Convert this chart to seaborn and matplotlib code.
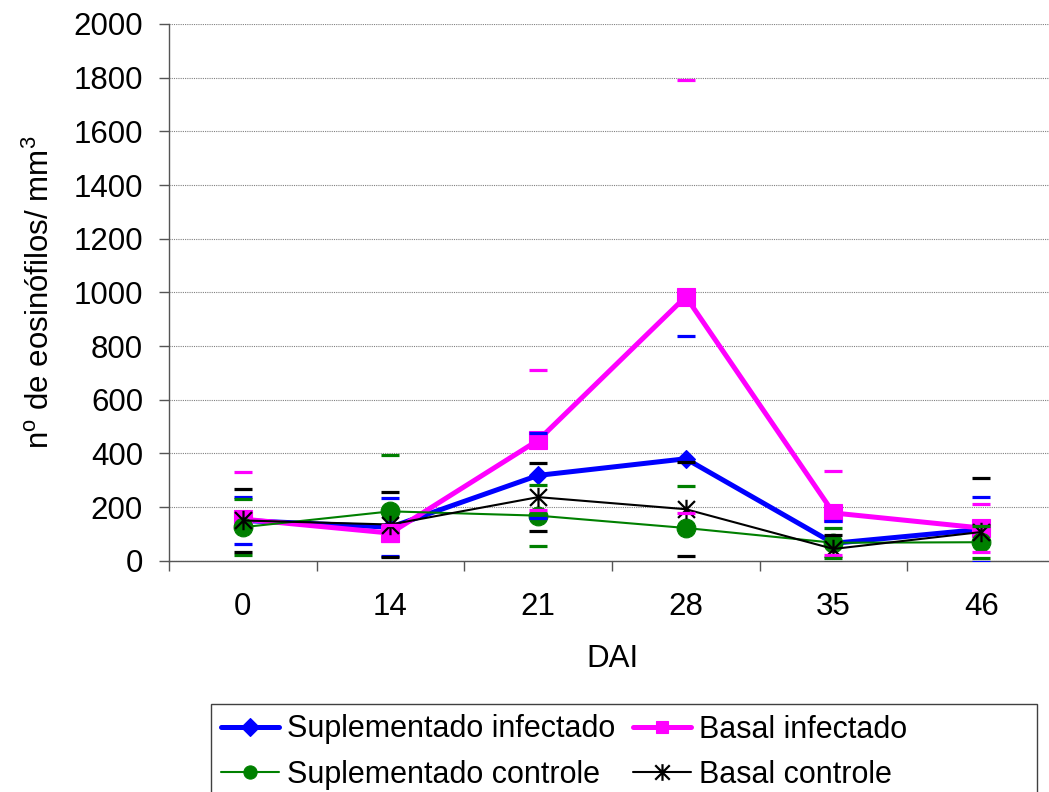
import numpy as np
import pandas as pd
import matplotlib
matplotlib.use("Agg")
import matplotlib.pyplot as plt
from matplotlib.path import Path
from matplotlib.patches import Rectangle
import seaborn as sns

# ---- data ----
days = ["0", "14", "21", "28", "35", "46"]
sup_inf = [150, 125, 318, 380, 65, 117]
sup_inf_err = [87, 108, 159, 458, 82, 121]
bas_inf = [155, 103, 449, 984, 178, 122]
bas_inf_err = [175, 30, 261, 806, 155, 90]
sup_ctrl = [125, 184, 168, 122, 67, 69]
sup_ctrl_err = [104, 211, 113, 155, 55, 60]
bas_ctrl = [150, 135, 237, 192, 44, 107]
bas_ctrl_err = [118, 122, 128, 176, 53, 202]
series_names = ["Suplementado infectado", "Basal infectado",
                "Suplementado controle", "Basal controle"]

sns.set_theme(style="white")
plt.rcParams['font.family'] = ['Liberation Sans', 'DejaVu Sans']
plt.rcParams['mathtext.fontset'] = 'custom'
plt.rcParams['mathtext.rm'] = 'Liberation Sans'
plt.rcParams['text.color'] = 'black'
plt.rcParams['axes.labelcolor'] = 'black'

FS = 22.5

fig = plt.figure(figsize=(10.49, 7.92), dpi=100)
ax = fig.add_axes([0.1611, 0.2920, 0.8446, 0.6777])

xpos = np.arange(len(days))
df = pd.DataFrame({"x": np.tile(xpos, 4),
                   "y": sup_inf + bas_inf + sup_ctrl + bas_ctrl,
                   "err": sup_inf_err + bas_inf_err + sup_ctrl_err + bas_ctrl_err,
                   "serie": np.repeat(series_names, len(days))})

asterisk = Path([(-1, -1), (1, 1), (-1, 1), (1, -1), (0, -1.15), (0, 1.15)],
                [Path.MOVETO, Path.LINETO, Path.MOVETO, Path.LINETO, Path.MOVETO, Path.LINETO])

styles = {
    "Suplementado infectado": dict(color="#0000FF", lw=3.6, marker="D", ms=9.2, mew=0.8, lms=9.5),
    "Basal infectado": dict(color="#FF00FF", lw=3.6, marker="s", ms=13, mew=0.8, lms=8),
    "Suplementado controle": dict(color="#008000", lw=1.5, marker="o", ms=13.5, mew=0.8, lms=9.5),
    "Basal controle": dict(color="#000000", lw=1.5, marker=asterisk, ms=14, mew=1.6, lms=12),
}

for name in series_names:
    st = styles[name]
    sub = df[df["serie"] == name]
    sns.lineplot(data=sub, x="x", y="y", ax=ax, color=st["color"], lw=st["lw"],
                 marker=st["marker"], markersize=st["ms"], markeredgewidth=st["mew"],
                 markeredgecolor=st["color"], markerfacecolor=st["color"],
                 label=name, zorder=3, legend=False)

for name in series_names:
    st = styles[name]
    sub = df[df["serie"] == name]
    eb = ax.errorbar(sub["x"], sub["y"], yerr=sub["err"], fmt="none",
                     ecolor=st["color"], capsize=6.8, capthick=2.3,
                     elinewidth=0, zorder=5)
    for c in eb[2]:
        c.set_visible(False)

ax.set_xlim(-0.5, len(days) - 0.5)
ax.set_ylim(0, 2000)
ax.set_yticks(np.arange(0, 2001, 200))
ax.set_xticks(xpos)
ax.set_xticklabels(days)
ax.set_xticks(np.arange(-0.5, len(days), 1), minor=True)

spine_c = "#555555"
for s in ["top", "right"]:
    ax.spines[s].set_visible(False)
for s in ["left", "bottom"]:
    ax.spines[s].set_color(spine_c)
    ax.spines[s].set_linewidth(1)

ax.yaxis.grid(True, linestyle=(0, (1, 1)), color="#808080", lw=0.8)
ax.xaxis.grid(False)
ax.set_axisbelow(True)

ax.tick_params(axis="x", which="major", bottom=True, length=0, pad=22.5,
               labelsize=FS, labelcolor="black")
ax.tick_params(axis="x", which="minor", bottom=True, length=7.2, width=1,
               direction="out", color=spine_c)
ax.tick_params(axis="y", which="major", left=True, length=7.2, width=1,
               direction="out", color=spine_c, pad=11.5, labelsize=FS,
               labelcolor="black")

ax.set_xlabel("DAI", fontsize=FS, labelpad=16, color="black")
ax.set_ylabel(r"$\mathregular{n^{o}}$ de eosinófilos/ $\mathregular{mm^{3}}$",
              fontsize=FS, labelpad=12.5, color="black")

handles, labels = ax.get_legend_handles_labels()
hmap = dict(zip(labels, handles))
order = ["Suplementado infectado", "Suplementado controle",
         "Basal infectado", "Basal controle"]
leg = fig.legend([hmap[o] for o in order], order, ncol=2, loc="upper left",
                 bbox_to_anchor=(220.7 / 1049, 1 - 714.5 / 792), frameon=False,
                 borderpad=0, borderaxespad=0, handlelength=1.9, handletextpad=0.26,
                 columnspacing=0.59, labelspacing=0.5, fontsize=22,
                 labelcolor="black")
for h, o in zip(leg.legend_handles, order):
    h.set_markersize(styles[o]["lms"])

fig.add_artist(Rectangle((210.7 / 1049, -0.05), (1036.7 - 210.7) / 1049,
                         (1 - 704 / 792) + 0.05, transform=fig.transFigure,
                         fill=False, edgecolor="#404040", lw=1))

fig.savefig("out.png", dpi=100)
